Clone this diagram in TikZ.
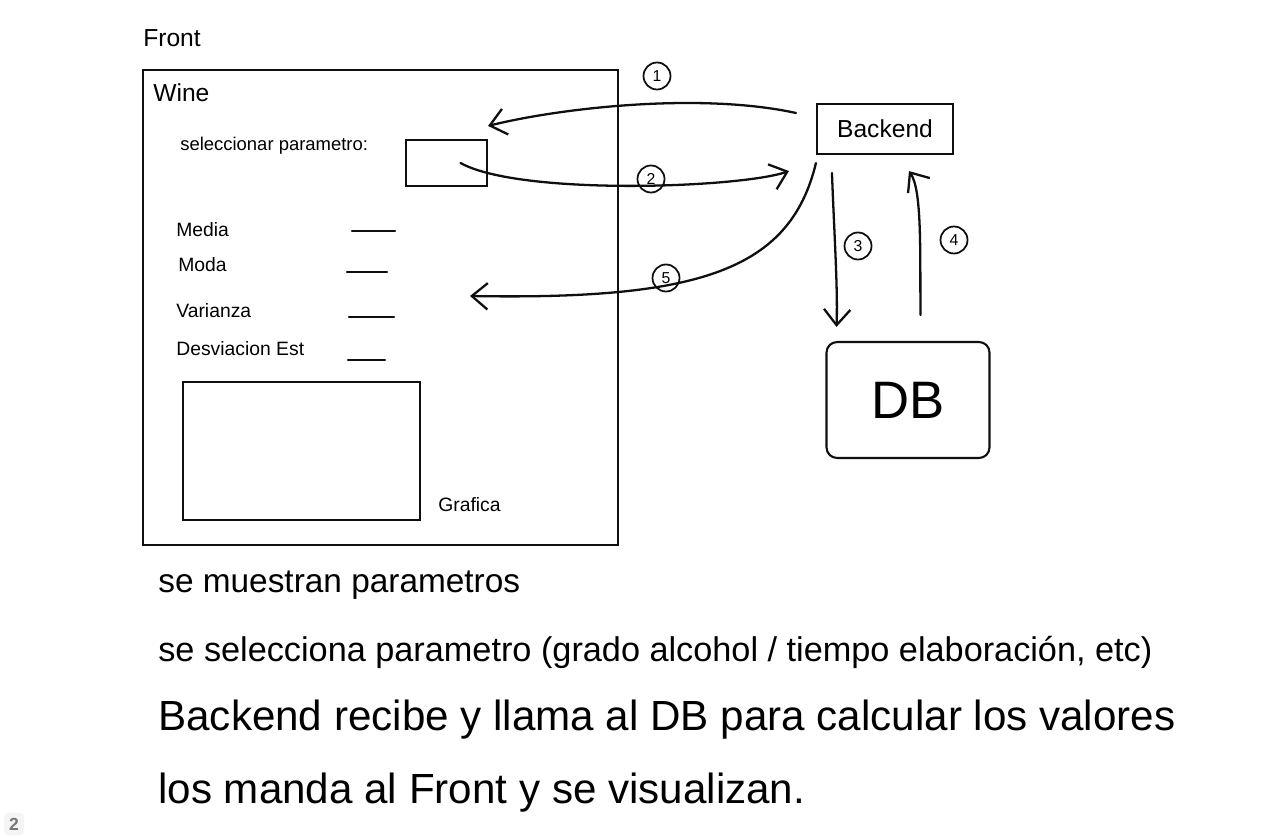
\documentclass[tikz,border=0pt]{standalone}
\usepackage{fontspec}
\setmainfont{Liberation Sans}
\usetikzlibrary{arrows.meta,calc}
\definecolor{inkBlack}{RGB}{15,15,15}
\definecolor{pageGray}{RGB}{120,120,120}
\tikzset{
  ink/.style={draw=inkBlack,line width=1.3pt,line cap=round,line join=round},
  arr/.style={ink,-{Straight Barb[length=9pt,width=15pt,line width=1.3pt]}},
  wbox/.style={draw=inkBlack,line width=1.2pt,inner sep=0pt},
  num/.style={circle,draw=inkBlack,line width=1pt,minimum size=0.54cm,inner sep=0pt,font=\small},
  lbl/.style={font=\fontsize{11}{13}\selectfont,anchor=west,inner sep=0pt},
  note/.style={font=\fontsize{19}{23}\selectfont,anchor=west,inner sep=0pt}
}

\begin{document}
\begin{tikzpicture}[x=0.02cm,y=-0.02cm]
  \useasboundingbox[fill=white] (0,0) rectangle (1280,837);

  % front side
  \node[lbl,font=\fontsize{14}{16}\selectfont] (front) at (143,38) {Front};
  \node[wbox,minimum width=9.5cm,minimum height=9.5cm] (wine) at (380.5,307.5) {};
  \node[lbl,font=\fontsize{14}{16}\selectfont] (winet) at (153,93) {Wine};
  \node[lbl,font=\fontsize{10.5}{12}\selectfont] (selt) at (180,146) {seleccionar parametro:};
  \node[wbox,minimum width=1.62cm,minimum height=0.92cm] (sel) at (446.5,163) {};
  \node[lbl] (media) at (176,230) {Media};
  \node[lbl] (moda) at (178,265) {Moda};
  \node[lbl] (varianza) at (176,311) {Varianza};
  \node[lbl] (desv) at (176,349) {Desviacion Est};
  \foreach \xa/\xb/\y in {352/395/231,347/387/272,349/394/317,348/385/360}
    \draw[ink] (\xa,\y) -- (\xb,\y);
  \node[wbox,minimum width=4.74cm,minimum height=2.76cm] (graf) at (301.5,451) {};
  \node[lbl] (graft) at (438,505) {Grafica};

  % back side
  \node[wbox,minimum width=2.72cm,minimum height=1cm,font=\fontsize{14}{16}\selectfont] (backend) at (885,129) {Backend};
  \node[wbox,rounded corners=6pt,minimum width=3.26cm,minimum height=2.32cm,font=\fontsize{30}{34}\selectfont] (db) at (908,400) {DB};

  \coordinate (a1s) at ($(backend.west)+(-20,-16)$);
  \coordinate (a1e) at ($(sel.north east)+(0,-13)$);
  \coordinate (a2s) at ($(sel.center)+(14,0)$);
  \coordinate (a2e) at ($(backend.south west)+(-27,16)$);
  \coordinate (a5s) at ($(backend.south west)+(0,8)$);
  \coordinate (a5e) at (470,296);
  \coordinate (a3s) at ($(backend.south west)+(16,18)$);
  \coordinate (a3e) at ($(db.north west)+(11,-14)$);
  \coordinate (a4s) at ($(db.north west)+(95,-26)$);
  \coordinate (a4e) at ($(backend.south west)+(93,16)$);

  \draw[arr] (a1s) .. controls (700,92) and (560,108) .. (a1e);
  \draw[arr] (a2s) .. controls (520,196) and (740,188) .. (a2e);
  \draw[arr] (a5s) .. controls (790,270) and (700,300) .. (a5e);
  \draw[arr] (a3s) .. controls (834,230) and (838,290) .. (a3e);
  \draw[arr] (a4s) .. controls (920,250) and (922,190) .. (a4e);

  \node[num] (n1) at (657,76) {1};
  \node[num] (n2) at (651,179) {2};
  \node[num] (n3) at (858,246) {3};
  \node[num] (n4) at (954,240) {4};
  \node[num] (n5) at (666,278) {5};

  % notes
  \node[note] (l1) at (158,585) {se muestran parametros};
  \node[note,font=\fontsize{19.5}{23}\selectfont] (l2) at (158,652) {se selecciona parametro (grado alcohol / tiempo elaboración, etc)};
  \node[note,font=\fontsize{24}{28}\selectfont] (l3) at (158,720) {Backend recibe y llama al DB para calcular los valores};
  \node[note,font=\fontsize{24}{28}\selectfont] (l4) at (158,793) {los manda al Front y se visualizan.};

  \node[fill=gray!8,rounded corners=3pt,text=pageGray,font=\bfseries,inner sep=3pt] (page) at (14,824) {2};
\end{tikzpicture}
\end{document}
